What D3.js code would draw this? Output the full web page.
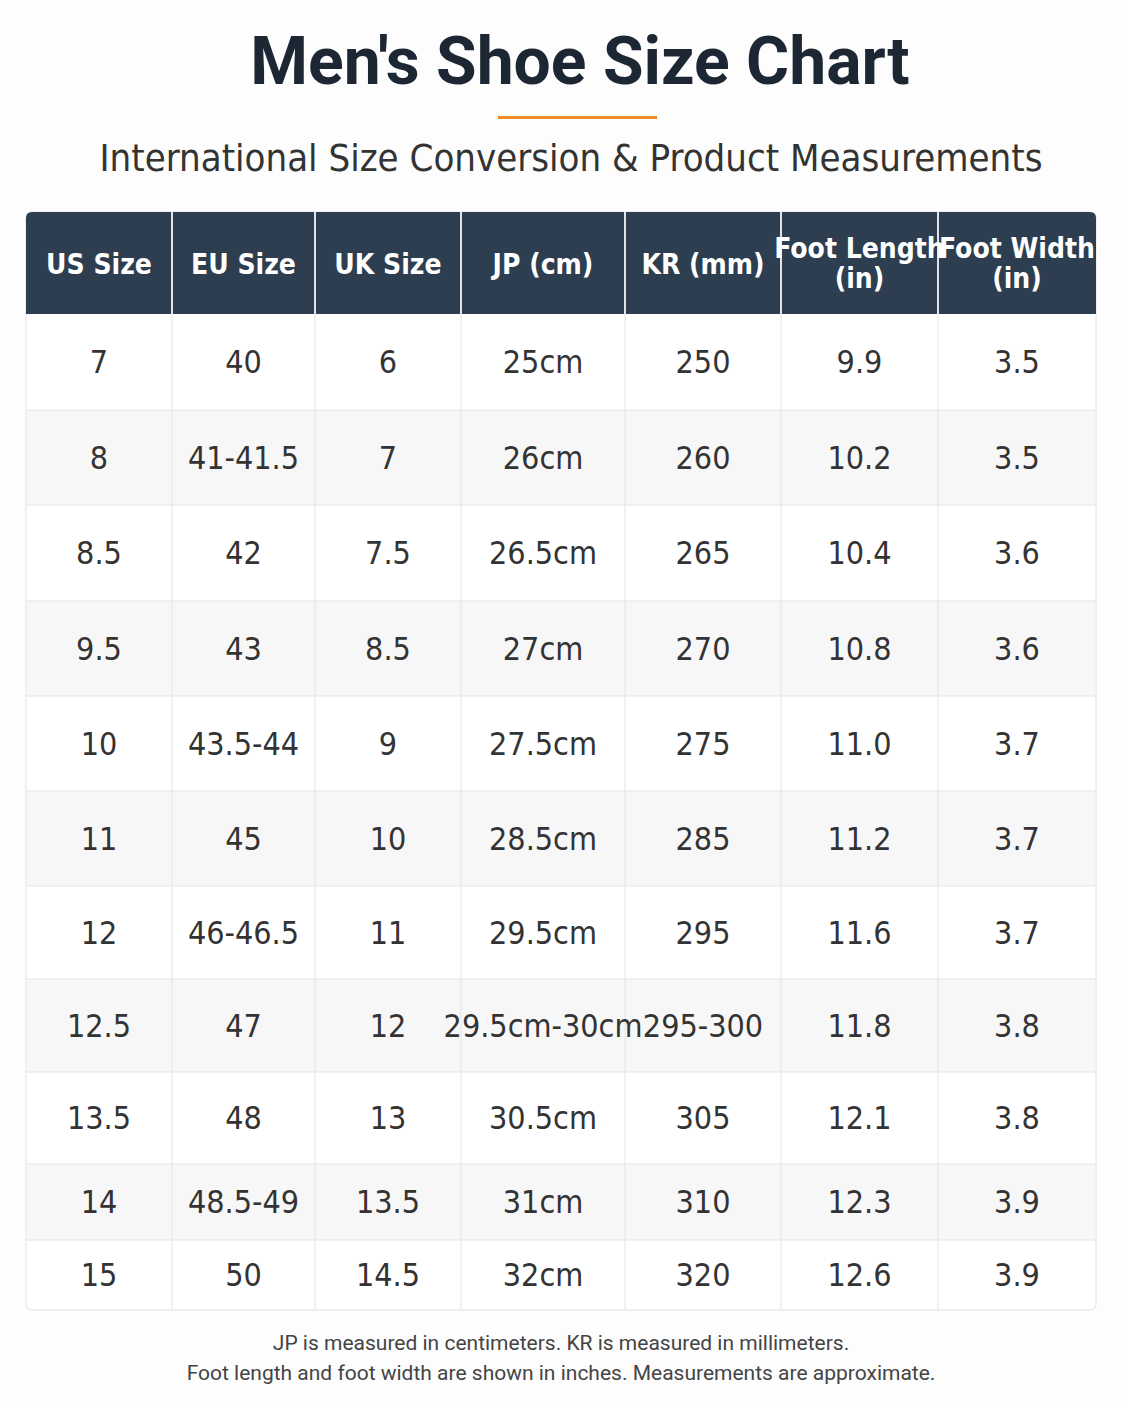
<!DOCTYPE html>
<html><head><meta charset="utf-8">
<script src="https://cdn.jsdelivr.net/npm/d3@7"></script>
<style>body{margin:0;background:#fdfdfd}</style>
</head><body>
<script>
const headers = [['US Size'], ['EU Size'], ['UK Size'], ['JP (cm)'], ['KR (mm)'], ['Foot Length', '(in)'], ['Foot Width', '(in)']];
const usSize = ['7','8','8.5','9.5','10','11','12','12.5','13.5','14','15'];
const euSize = ['40','41-41.5','42','43','43.5-44','45','46-46.5','47','48','48.5-49','50'];
const ukSize = ['6','7','7.5','8.5','9','10','11','12','13','13.5','14.5'];
const jpCm = ['25cm','26cm','26.5cm','27cm','27.5cm','28.5cm','29.5cm','29.5cm-30cm','30.5cm','31cm','32cm'];
const krMm = ['250','260','265','270','275','285','295','295-300','305','310','320'];
const footLength = ['9.9','10.2','10.4','10.8','11.0','11.2','11.6','11.8','12.1','12.3','12.6'];
const footWidth = ['3.5','3.5','3.6','3.6','3.7','3.7','3.7','3.8','3.8','3.9','3.9'];
const notes = ['JP is measured in centimeters. KR is measured in millimeters.',
  'Foot length and foot width are shown in inches. Measurements are approximate.'];

const columns = [usSize, euSize, ukSize, jpCm, krMm, footLength, footWidth];
// layout
const colEdges = [26, 172, 315, 461, 625, 781, 938, 1096];
const rowEdges = [314, 410, 505, 601, 696, 791, 886, 979, 1072, 1164, 1240, 1310];
const headTop = 212;
const narrow = '"Liberation Sans Narrow","DejaVu Sans Condensed",Roboto,sans-serif';

const svg = d3.select('body').append('svg').attr('width', 1122).attr('height', 1402);

svg.append('text').attr('x', 580).attr('y', 84).attr('text-anchor', 'middle')
  .attr('font-family', 'Roboto, sans-serif').attr('font-weight', 700).attr('font-size', 66)
  .attr('fill', '#1d2733').text("Men's Shoe Size Chart");
svg.append('rect').attr('x', 498).attr('y', 116).attr('width', 159).attr('height', 3).attr('fill', '#f08a24');
svg.append('text').attr('x', 571).attr('y', 171).attr('text-anchor', 'middle')
  .attr('font-family', narrow).attr('font-size', 38).attr('fill', '#333')
  .text('International Size Conversion & Product Measurements');

// table frame
svg.append('rect').attr('x', 26).attr('y', headTop).attr('width', 1070).attr('height', 1310 - headTop)
  .attr('rx', 6).attr('fill', '#fff').attr('stroke', '#e2e2e2');
svg.append('path')
  .attr('d', `M26,314 V${headTop + 6} Q26,${headTop} 32,${headTop} H1090 Q1096,${headTop} 1096,${headTop + 6} V314 Z`)
  .attr('fill', '#2c3e50');

const rows = d3.range(usSize.length);
svg.selectAll('.band').data(rows.filter(i => i % 2 === 1)).enter().append('rect')
  .attr('x', 27).attr('width', 1068)
  .attr('y', i => rowEdges[i]).attr('height', i => rowEdges[i + 1] - rowEdges[i])
  .attr('fill', '#f7f7f7');

svg.selectAll('.hl').data(rowEdges.slice(1, -1)).enter().append('line')
  .attr('x1', 26).attr('x2', 1096).attr('y1', d => d).attr('y2', d => d).attr('stroke', '#e4e4e4');
svg.selectAll('.vl').data(colEdges.slice(1, -1)).enter().append('line')
  .attr('x1', d => d).attr('x2', d => d).attr('y1', headTop).attr('y2', 1310)
  .attr('stroke', d => '#e4e4e4');
svg.selectAll('.vh').data(colEdges.slice(1, -1)).enter().append('line')
  .attr('x1', d => d).attr('x2', d => d).attr('y1', headTop).attr('y2', 314).attr('stroke', '#ffffff').attr('stroke-width', 1.5);

headers.forEach((h, c) => {
  const cx = (colEdges[c] + colEdges[c + 1]) / 2;
  const t = svg.append('text').attr('x', cx).attr('text-anchor', 'middle')
    .attr('font-family', narrow).attr('font-weight', 700).attr('font-size', 28).attr('fill', '#fff');
  const y0 = h.length === 1 ? 274 : 258;
  h.forEach((s, k) => t.append('tspan').attr('x', cx).attr('y', y0 + k * 30).text(s));
});

columns.forEach((col, c) => {
  const cx = (colEdges[c] + colEdges[c + 1]) / 2;
  svg.selectAll(null).data(col).enter().append('text')
    .attr('x', cx).attr('y', (d, i) => (rowEdges[i] + rowEdges[i + 1]) / 2 + 11)
    .attr('text-anchor', 'middle').attr('font-family', narrow).attr('font-size', 32)
    .attr('fill', '#333').text(d => d);
});

svg.selectAll('.note').data(notes).enter().append('text')
  .attr('x', 561).attr('y', (d, i) => 1350 + i * 30).attr('text-anchor', 'middle')
  .attr('font-family', 'Roboto, sans-serif').attr('font-size', 21).attr('fill', '#444').text(d => d);
</script>
</body></html>
